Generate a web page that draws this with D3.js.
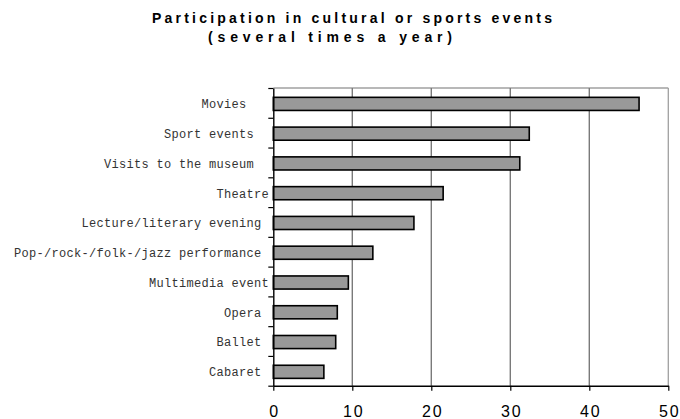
<!DOCTYPE html>
<html>
<head>
<meta charset="utf-8">
<script src="https://cdn.jsdelivr.net/npm/d3@7/dist/d3.min.js"></script>
<style>
  html, body { margin: 0; padding: 0; background: #fff; }
  svg { display: block; }
</style>
</head>
<body>
<svg id="chart" width="680" height="419"></svg>
<script>
// Share of respondents attending several times a year (%)
const categories = [
  "Movies   ",
  "Sport events  ",
  "Visits to the museum  ",
  "Theatre",
  "Lecture/literary evening ",
  "Pop-/rock-/folk-/jazz performance ",
  "Multimedia event",
  "Opera ",
  "Ballet ",
  "Cabaret "
];
const values = [46.3, 32.4, 31.2, 21.5, 17.8, 12.6, 9.5, 8.1, 7.9, 6.4];
const xTicks = [0, 10, 20, 30, 40, 50];
const titleLines = ["Participation in cultural or sports events", "(several times a year)"];

const svg = d3.select("#chart");

const plotLeft = 273.3, plotRight = 668.3, plotTop = 88, plotBottom = 385.7;

const x = d3.scaleLinear().domain([0, 50]).range([plotLeft, plotRight]);
const y = d3.scaleBand().domain(categories).range([plotTop, plotBottom]).padding(0);
const yEdges = d3.scaleLinear().domain([0, categories.length]).range([plotTop, plotBottom]);

// Title
svg.append("text")
  .attr("x", 152).attr("y", 23.3)
  .attr("textLength", 400).attr("lengthAdjust", "spacing")
  .style("font-family", "'Liberation Sans', Arial, sans-serif")
  .style("font-weight", "bold").style("font-size", "14px").attr("fill", "#000")
  .text(titleLines[0]);
svg.append("text")
  .attr("x", 208).attr("y", 42)
  .attr("textLength", 244).attr("lengthAdjust", "spacing")
  .style("font-family", "'Liberation Sans', Arial, sans-serif")
  .style("font-weight", "bold").style("font-size", "14px").attr("fill", "#000")
  .text(titleLines[1]);

// Plot frame (top and right) and vertical gridlines
svg.append("line")
  .attr("x1", plotLeft).attr("x2", plotRight).attr("y1", plotTop).attr("y2", plotTop)
  .attr("stroke", "#a0a0a0").attr("stroke-width", 1.3);
svg.append("line")
  .attr("x1", x(50)).attr("x2", x(50)).attr("y1", plotTop).attr("y2", plotBottom)
  .attr("stroke", "#a0a0a0").attr("stroke-width", 1.3);
svg.append("g").selectAll("line")
  .data(xTicks.filter(t => t > 0 && t < 50))
  .join("line")
  .attr("x1", d => x(d)).attr("x2", d => x(d))
  .attr("y1", plotTop).attr("y2", plotBottom)
  .attr("stroke", "#7a7a7a").attr("stroke-width", 1.4);

// Bars
const barH = y.bandwidth() * 0.44;
svg.append("g").selectAll("rect")
  .data(categories.map((c, i) => ({ c, v: values[i] })))
  .join("rect")
  .attr("x", x(0))
  .attr("y", d => y(d.c) + (y.bandwidth() - barH) / 2 + 1)
  .attr("width", d => x(d.v) - x(0))
  .attr("height", barH)
  .attr("fill", "#999999")
  .attr("stroke", "#000")
  .attr("stroke-width", 1.6);

// Category axis: ticks on band edges
const yAxis = svg.append("g")
  .attr("transform", `translate(${plotLeft},0)`)
  .call(d3.axisLeft(yEdges)
    .tickValues(d3.range(categories.length + 1))
    .tickFormat("")
    .tickSize(5)
    .tickSizeOuter(0));
yAxis.select(".domain").attr("stroke", "#000").attr("stroke-width", 1.4);
yAxis.selectAll(".tick line").attr("stroke", "#000").attr("stroke-width", 1.2);

// Category labels
svg.append("g").selectAll("text")
  .data(categories)
  .join("text")
  .attr("x", 269)
  .attr("y", d => y(d) + y.bandwidth() / 2 + 1)
  .attr("dy", "0.36em")
  .attr("text-anchor", "end")
  .style("white-space", "pre")
  .style("font-family", "'Liberation Mono', 'Courier New', monospace")
  .style("font-size", "12px")
  .style("letter-spacing", "0.3px")
  .attr("fill", "#333")
  .text(d => d);

// Value axis
const xAxis = svg.append("g")
  .attr("transform", `translate(0,${plotBottom})`)
  .call(d3.axisBottom(x)
    .tickValues(xTicks)
    .tickSize(5)
    .tickSizeOuter(0)
    .tickPadding(14.6));
xAxis.select(".domain").attr("stroke", "#000").attr("stroke-width", 1.4);
xAxis.selectAll(".tick line").attr("stroke", "#000").attr("stroke-width", 1.2);
xAxis.selectAll(".tick text")
  .style("font-family", "'Liberation Sans', Arial, sans-serif")
  .style("font-size", "16px")
  .style("letter-spacing", "2px")
  .attr("dx", "1px")
  .attr("fill", "#000");
</script>
</body>
</html>
